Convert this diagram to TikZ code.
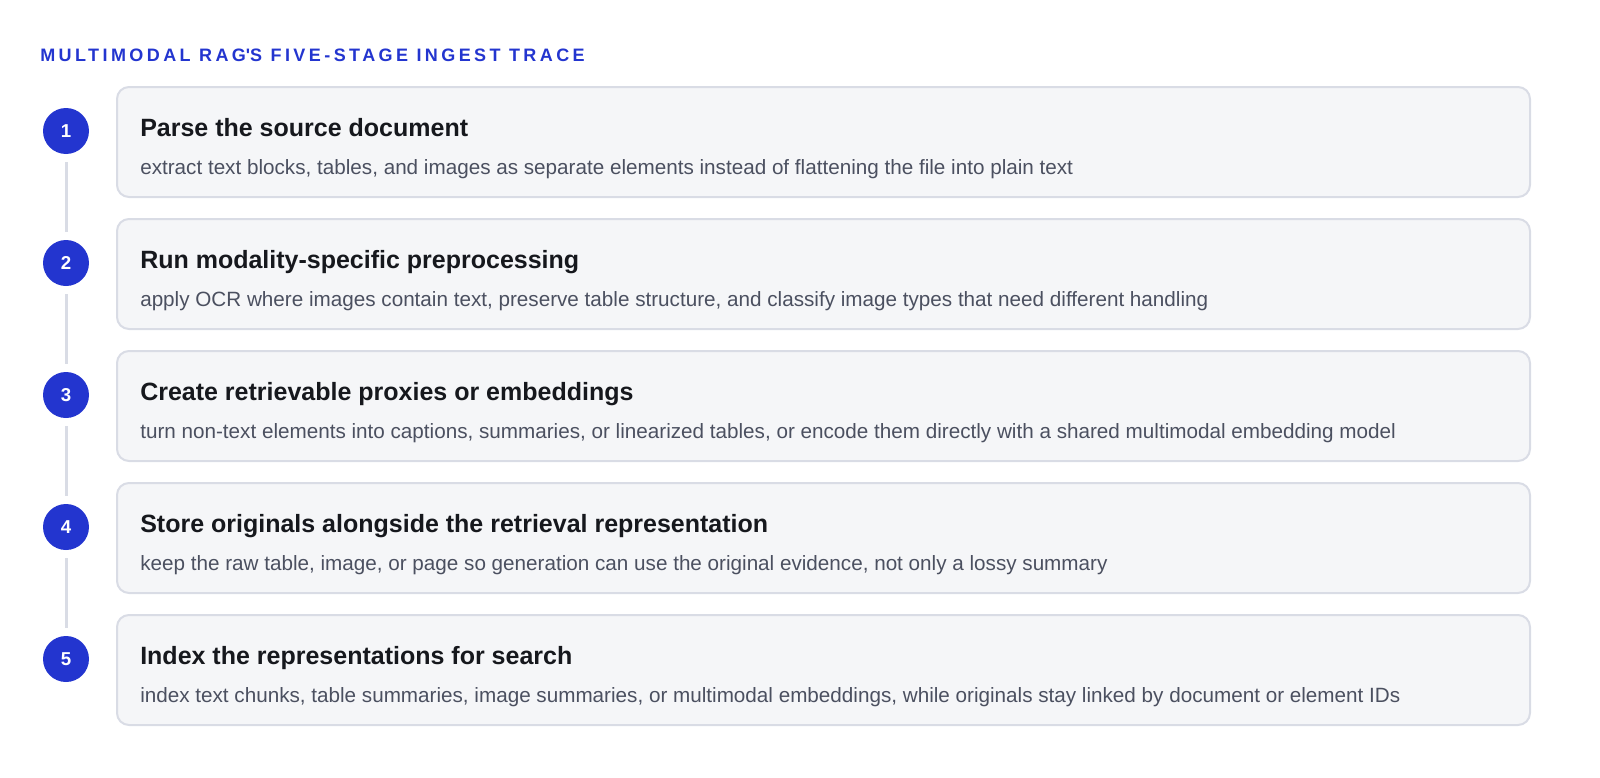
\documentclass[tikz,border=0pt]{standalone}
\usepackage{fontspec}
\setmainfont{Liberation Sans}
\newfontfamily\titlefont[LetterSpace=19]{Liberation Sans}
\usetikzlibrary{positioning}

\definecolor{accent}{HTML}{2335CF}
\definecolor{cardfill}{HTML}{F5F6F8}
\definecolor{cardline}{HTML}{D9DCE5}
\definecolor{headink}{HTML}{16181D}
\definecolor{subink}{HTML}{4B5060}

\tikzset{
  stagebox/.style={draw=cardline, line width=1.5pt, fill=cardfill, rounded corners=9pt,
    minimum width=1059.75pt, minimum height=82.5pt, inner sep=0pt, anchor=north west},
  numdot/.style={circle, fill=accent, text=white, minimum size=34.5pt, inner sep=0pt,
    font=\fontsize{14}{16}\selectfont\bfseries},
  headtext/.style={anchor=base west, inner sep=0pt, text=headink,
    font=\fontsize{18.75}{22}\selectfont\bfseries},
  subtext/.style={anchor=base west, inner sep=0pt, text=subink,
    font=\fontsize{15.5}{18}\selectfont},
  spine/.style={draw=cardline, line width=2.25pt},
}

\begin{document}
\begin{tikzpicture}[x=0.75pt, y=-0.75pt]
  \useasboundingbox (0,0) rectangle (1600,778);
  \node[anchor=base west, inner sep=0pt, text=accent, font=\titlefont\fontsize{13.5}{16}\selectfont\bfseries]
    (title) at (40,61) {MULTIMODAL RAG\textquotesingle S FIVE-STAGE INGEST TRACE};
  % one card per stage
  \foreach \i/\head/\sub in {
    1/{Parse the source document}/{extract text blocks, tables, and images as separate elements instead of flattening the file into plain text},
    2/{Run modality-specific preprocessing}/{apply OCR where images contain text, preserve table structure, and classify image types that need different handling},
    3/{Create retrievable proxies or embeddings}/{turn non-text elements into captions, summaries, or linearized tables, or encode them directly with a shared multimodal embedding model},
    4/{Store originals alongside the retrieval representation}/{keep the raw table, image, or page so generation can use the original evidence, not only a lossy summary},
    5/{Index the representations for search}/{index text chunks, table summaries, image summaries, or multimodal embeddings, while originals stay linked by document or element IDs}} {
    \node[stagebox] (box\i) at (116,{86+132*(\i-1)}) {};
    \node[headtext] (head\i) at ([xshift=18pt, yshift=-37.5pt]box\i.north west) {\head};
    \node[subtext] (sub\i) at ([xshift=18pt, yshift=-66pt]box\i.north west) {\sub};
    \node[numdot] (num\i) at (66,{131+132*(\i-1)}) {\i};
  }
  % timeline between the dots
  \foreach \i in {1,...,4} {
    \pgfmathtruncatemacro\j{\i+1}
    \draw[spine] ([yshift=-6pt]num\i.south) -- ([yshift=6pt]num\j.north);
  }
\end{tikzpicture}
\end{document}
